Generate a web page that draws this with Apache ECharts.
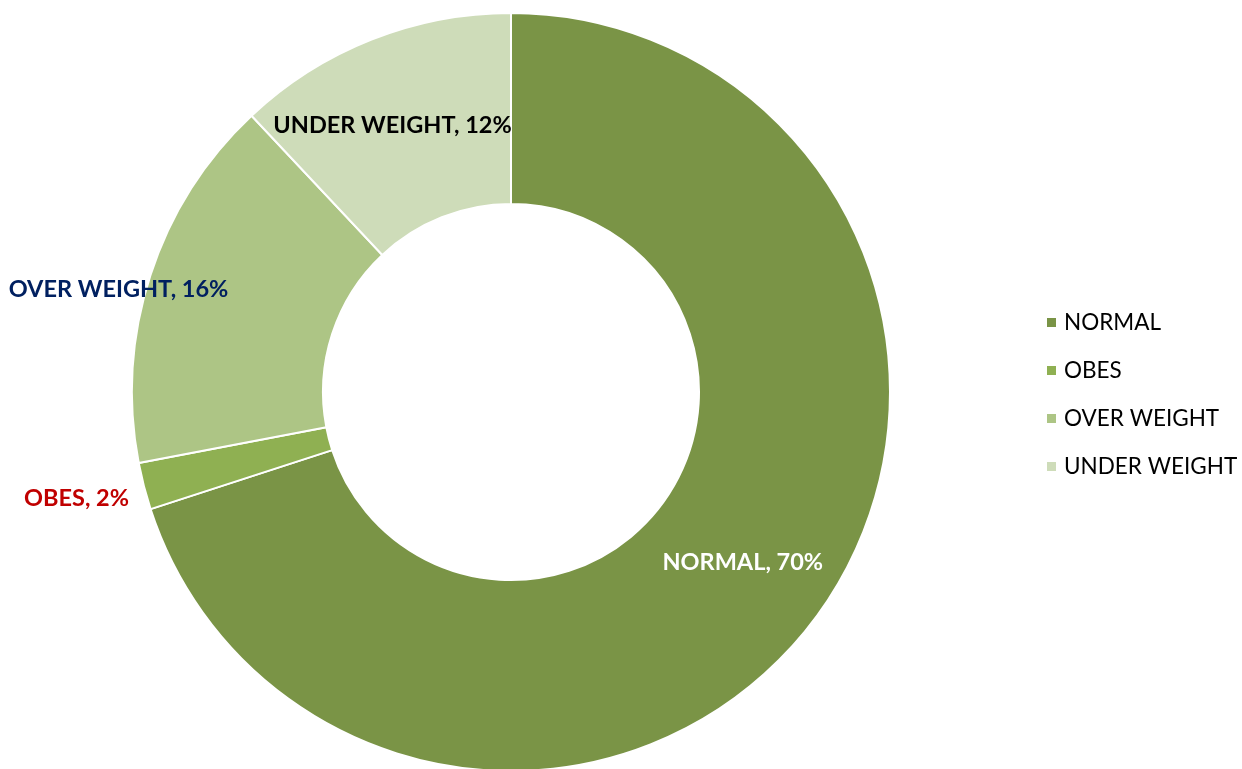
<!DOCTYPE html>
<html>
<head>
<meta charset="utf-8">
<script src="https://cdn.jsdelivr.net/npm/echarts@6/dist/echarts.min.js"></script>
<style>
  html, body { margin: 0; padding: 0; background: #ffffff; }
  #chart { width: 1242px; height: 769px; }
</style>
</head>
<body>
<div id="chart"></div>
<script>
// BMI categories and their shares (%)
const categories = ['NORMAL', 'OBES', 'OVER WEIGHT', 'UNDER WEIGHT'];
const shares = [70, 2, 16, 12];
const sliceColors = ['#7a9446', '#8fb052', '#adc585', '#cedcb9'];
const labelColors = ['#ffffff', '#c00000', '#002060', '#000000'];
const labelOffsets = [[0, 2], [-157, 35], [-120, -14], [-13, 0]];

const FONT = 'Lato, "Open Sans", "Liberation Sans", sans-serif';

const chart = echarts.init(document.getElementById('chart'), null, { renderer: 'canvas' });

const data = categories.map((name, i) => ({
  name: name,
  value: shares[i],
  itemStyle: { color: sliceColors[i] },
  label: {
    color: labelColors[i],
    offset: labelOffsets[i]
  }
}));

chart.setOption({
  animation: false,
  backgroundColor: '#ffffff',
  legend: {
    orient: 'vertical',
    left: 1040,
    top: 306,
    itemWidth: 11,
    itemHeight: 11,
    itemGap: 25,
    icon: 'rect',
    textStyle: { fontFamily: FONT, fontSize: 22.5, color: '#000000', padding: [0, 0, 0, 2] },
    data: categories
  },
  series: [{
    type: 'pie',
    center: [511, 392],
    radius: [188, 379],
    startAngle: 90,
    clockwise: true,
    avoidLabelOverlap: false,
    itemStyle: {
      borderColor: '#ffffff',
      borderWidth: 2
    },
    label: {
      show: true,
      position: 'inside',
      formatter: '{b}, {d}%',
      fontFamily: FONT,
      fontWeight: 'bold',
      fontSize: 23.5
    },
    labelLine: { show: false },
    emphasis: { disabled: true },
    data: data
  }]
});
</script>
</body>
</html>
